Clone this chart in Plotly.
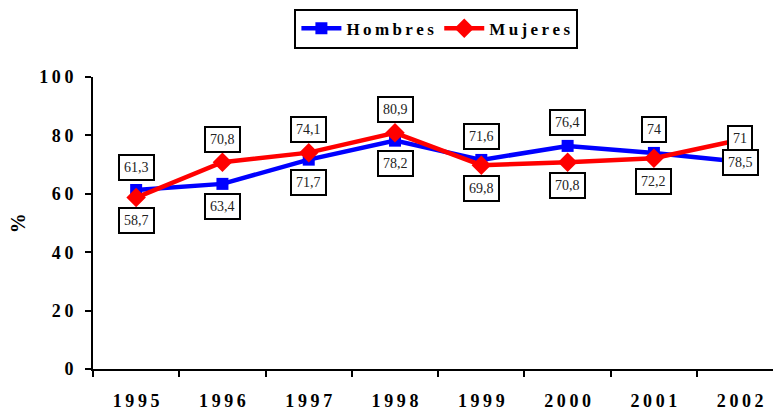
import plotly.graph_objects as go

years = ['1995', '1996', '1997', '1998', '1999', '2000', '2001', '2002']
hombres = [61.3, 63.4, 71.7, 78.2, 71.6, 76.4, 74.0, 71.0]
mujeres = [58.7, 70.8, 74.1, 80.9, 69.8, 70.8, 72.2, 78.5]
# which side of its point each label sits on (1 above, -1 below)
hombres_side = [1, -1, -1, -1, 1, 1, 1, 1]
mujeres_side = [-1, 1, 1, 1, -1, -1, -1, -1]
y_ticks = [0, 20, 40, 60, 80, 100]

serif = 'Liberation Serif'


def spaced(s):
    return '\u2009'.join(s)


def fmt(v):
    return ('%g' % v).replace('.', ',')


fig = go.Figure()
fig.add_trace(go.Scatter(
    x=years, y=hombres, name=spaced('Hombres'), mode='lines+markers',
    line=dict(color='#0000FF', width=4.5),
    marker=dict(symbol='square', size=12, color='#0000FF')))
fig.add_trace(go.Scatter(
    x=years, y=mujeres, name=spaced('Mujeres'), mode='lines+markers',
    line=dict(color='#FF0000', width=4.5),
    marker=dict(symbol='diamond', size=15, color='#FF0000')))

for vals, sides in [(hombres, hombres_side), (mujeres, mujeres_side)]:
    for i, (v, s) in enumerate(zip(vals, sides)):
        fig.add_annotation(
            x=i, y=v, xref='x', yref='y', text=fmt(v), showarrow=False, yshift=23 * s,
            font=dict(family=serif, size=14, color='#222'),
            bgcolor='white', bordercolor='black', borderwidth=2, borderpad=4)

fig.add_annotation(
    xref='paper', yref='paper', x=-0.11, y=0.5, xanchor='center', yanchor='middle',
    text='<b>%</b>', showarrow=False, textangle=-90,
    font=dict(family=serif, size=20, color='black'))

fig.update_layout(
    width=773, height=412,
    margin=dict(l=93, r=0, t=77, b=43),
    plot_bgcolor='white', paper_bgcolor='white',
    legend=dict(orientation='h', x=0.505, xanchor='center', y=1.165, yanchor='middle',
                bordercolor='black', borderwidth=2, bgcolor='white',
                font=dict(family=serif, size=17, color='black', weight='bold'),
                itemwidth=40),
    xaxis=dict(type='category', range=[-0.5, 7.38], tickson='boundaries',
               showline=True, linecolor='black', linewidth=2,
               ticks='outside', ticklen=6, tickcolor='black', tickwidth=2,
               showgrid=False, ticklabelstandoff=14,
               tickvals=years, ticktext=[spaced(y) for y in years],
               tickfont=dict(family=serif, size=18, color='black', weight='bold')),
    yaxis=dict(range=[0, 100], showline=True, linecolor='black', linewidth=2,
               ticks='outside', ticklen=6, tickcolor='black', tickwidth=2,
               showgrid=False, zeroline=False, ticklabelstandoff=8,
               tickvals=y_ticks, ticktext=[spaced(str(t)) for t in y_ticks],
               tickfont=dict(family=serif, size=18, color='black', weight='bold')),
)

fig.write_html("out.html", config={'displayModeBar': False},
               post_script="document.body.style.margin='0';")
